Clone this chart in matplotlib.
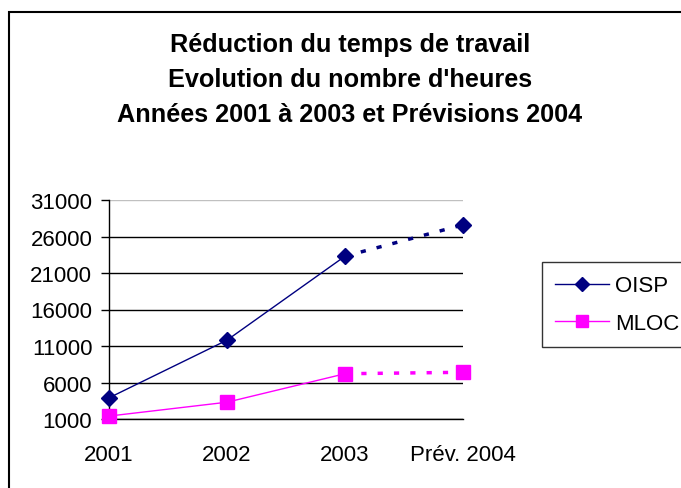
import matplotlib
matplotlib.use("Agg")
import matplotlib.pyplot as plt
from matplotlib.lines import Line2D
from matplotlib.patches import Rectangle

# ---- data ----
years = ["2001", "2002", "2003", "Prév. 2004"]
oisp = [3900, 11800, 23300, 27600]
mloc = [1400, 3300, 7200, 7400]
yticks = [1000, 6000, 11000, 16000, 21000, 26000, 31000]

plt.rcParams['font.family'] = ['Liberation Sans', 'DejaVu Sans']

W, H = 681, 489
fig = plt.figure(figsize=(W / 100, H / 100), dpi=100)
fig.patch.set_facecolor('white')

# outer frame (clipped on right and bottom like the original)
fig.add_artist(Rectangle((9 / W, -0.1), 1.2, 1 - 13 / H + 0.1, transform=fig.transFigure,
                         fill=False, edgecolor='black', linewidth=1.5))

# title, three lines
titles = ["Réduction du temps de travail",
          "Evolution du nombre d'heures",
          "Années 2001 à 2003 et Prévisions 2004"]
for i, t in enumerate(titles):
    fig.text(350 / W, 1 - (45 + 35 * i) / H, t, ha='center', va='center',
             fontsize=18.2, fontweight='bold')

ax = fig.add_axes([109 / W, 1 - 420 / H, (463 - 109) / W, (420 - 201) / H])
x = list(range(len(years)))

# gridlines
for v in yticks:
    col = '#c0c0c0' if v == yticks[-1] else 'black'
    ax.axhline(v, color=col, linewidth=1, zorder=1)

navy = '#000080'
mag = '#ff00ff'
# actual values: solid
ax.plot(x[:3], oisp[:3], color=navy, linewidth=1, zorder=3, clip_on=False)
ax.plot(x[:3], mloc[:3], color=mag, linewidth=1, zorder=3, clip_on=False)
# forecast: dotted
ax.plot(x[2:], oisp[2:], color=navy, linewidth=2.5, linestyle=(0, (1.5, 3.2)), zorder=3, clip_on=False)
ax.plot(x[2:], mloc[2:], color=mag, linewidth=2.5, linestyle=(0, (1.5, 3.2)), zorder=3, clip_on=False)
# markers
ax.plot(x, oisp, linestyle='none', marker='D', markersize=8, color=navy, zorder=4, clip_on=False)
ax.plot(x, mloc, linestyle='none', marker='s', markersize=9.5, color=mag, zorder=4, clip_on=False)

ax.set_xlim(0, 3)
ax.set_ylim(1000, 31000)
ax.set_yticks(yticks)
ax.set_yticklabels([str(v) for v in yticks], fontsize=16)
ax.set_xticks(x)
ax.set_xticklabels(years, fontsize=16)
ax.tick_params(axis='y', length=6, width=1, color='black', pad=6)
ax.tick_params(axis='x', length=0, pad=18)
ax.spines['top'].set_visible(False)
ax.spines['right'].set_visible(False)
ax.spines['left'].set_linewidth(1)
ax.spines['bottom'].set_linewidth(1)

handles = [Line2D([], [], color=navy, linewidth=1, marker='D', markersize=7),
           Line2D([], [], color=mag, linewidth=1, marker='s', markersize=8)]
leg = fig.legend(handles, ["OISP", "MLOC"], loc='upper left',
                 bbox_to_anchor=(542 / W, 1 - 263 / H), borderaxespad=0,
                 fontsize=16, frameon=True, fancybox=False, edgecolor='black',
                 handlelength=2.4, handletextpad=0.3, labelspacing=0.75,
                 borderpad=0.6)
leg.get_frame().set_linewidth(1)

fig.savefig("out.png", dpi=100)
